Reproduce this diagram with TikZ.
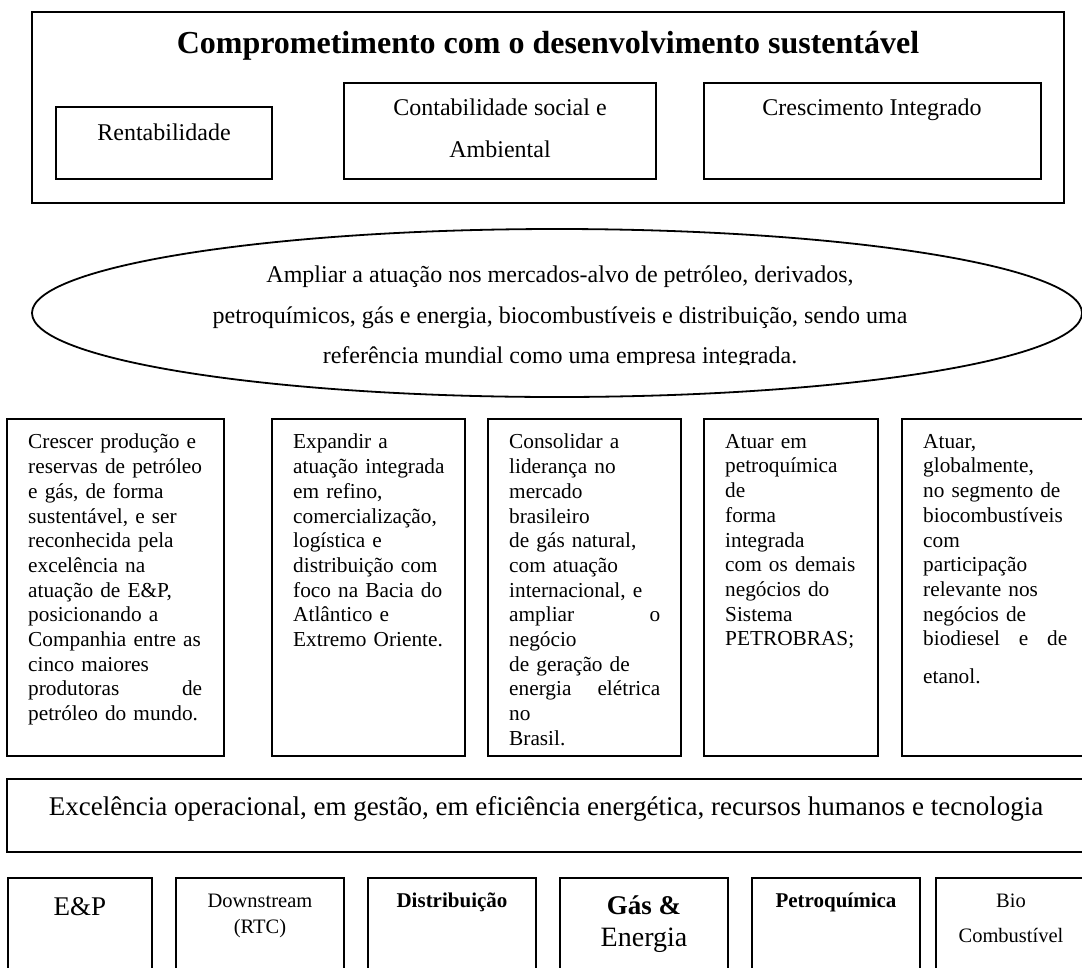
\documentclass[tikz,border=0pt]{standalone}
\usepackage{fontspec}
\setmainfont{Liberation Serif}
\usepackage {tikz}
\usetikzlibrary{positioning}
\newcommand\spreadgap{\hskip 0pt plus 1filll}

\begin{document}
\begin{tikzpicture}[x=1pt, y=-1pt,
    frame/.style={draw, line width=1.8pt},
    lbl/.style={inner sep=0pt, anchor=base},
    big/.style={font=\fontsize{24}{28}\selectfont},
    small/.style={font=\fontsize{20.5}{24}\selectfont},
    col/.style={inner sep=0pt, anchor=north west, text width=#1pt, align=left,
        font=\fontsize{21.3}{24.7}\selectfont}]
%\draw[help lines, step=50] (0,0) grid (1082,967);
\useasboundingbox (0,0) rectangle (1082,967);

% top frame
\draw[frame] (32,12) rectangle (1064,203);
\node[lbl, font=\bfseries\fontsize{32}{38}\selectfont] (title) at (548,53) {Comprometimento com o desenvolvimento sustentável};
\draw[frame] (56,107) rectangle (272,179);
\draw[frame] (344,83) rectangle (656,179);
\draw[frame] (704,83) rectangle (1041,179);
\node[lbl, big] (rent) at (164,140) {Rentabilidade};
\node[lbl, big] (cont) at (500,115) {Contabilidade social e};
\node[lbl, big] (amb) at (500,157) {Ambiental};
\node[lbl, big] (cresc) at (872,115) {Crescimento Integrado};

% vision
\draw[frame] (557,313) ellipse [x radius=525pt, y radius=84pt];
\node[lbl, big] (vis1) at (560,282) {Ampliar a atuação nos mercados-alvo de petróleo, derivados,};
\node[lbl, big] (vis2) at (560,323) {petroquímicos, gás e energia, biocombustíveis e distribuição, sendo uma};
\begin{scope}
\clip (0,0) rectangle (1082,364.5);
\node[lbl, big] (vis3) at (560,363) {referência mundial como uma empresa integrada.};
\end{scope}

% goals
\foreach \xa/\xb in {7/224, 272/465, 488/681, 704/878, 902/1090}
    \draw[frame] (\xa,419) rectangle (\xb,756);
\node[col=174] (goal1) at (28,434) {Crescer produção e\\ reservas de petróleo\\ e gás, de forma\\ sustentável, e ser\\ reconhecida pela\\ excelência na\\ atuação de E\&P,\\ posicionando a\\ Companhia entre as\\ cinco maiores\\ produtoras \spreadgap{} de\\ petróleo do mundo.};
\node[col=162] (goal2) at (293,434) {Expandir a\\ atuação integrada\\ em refino,\\ comercialização,\\ logística e\\ distribuição com\\ foco na Bacia do\\ Atlântico e\\ Extremo Oriente.};
\node[col=151] (goal3) at (509,434) {Consolidar a\\ liderança no\\ mercado\\ brasileiro\\ de gás natural,\\ com atuação\\ internacional, e\\ ampliar \spreadgap{} o\\ negócio\\ de geração de\\ energia \spreadgap{} elétrica\\ no\\ Brasil.};
\node[col=132] (goal4) at (725,434) {Atuar em\\ petroquímica\\ de\\ forma\\ integrada\\ com os demais\\ negócios do\\ Sistema\\ PETROBRAS;};
\node[col=144] (goal5) at (923,434) {Atuar,\\ globalmente,\\ no segmento de\\ biocombustíveis\\ com\\ participação\\ relevante nos\\ negócios de\\ biodiesel \spreadgap{} e \spreadgap{} de\\[13pt] etanol.};

% excellence
\draw[frame] (7,779) rectangle (1088,852);
\node[lbl, font=\fontsize{27}{32}\selectfont] (excel) at (546,815) {Excelência operacional, em gestão, em eficiência energética, recursos humanos e tecnologia};

% business areas
\foreach \xa/\xb in {8/152, 176/344, 368/536, 560/728, 752/920, 936/1090}
    \draw[frame] (\xa,878) rectangle (\xb,980);
\node[lbl, font=\fontsize{27}{32}\selectfont] (ep) at (80,915) {E\&P};
\node[lbl, small] (down) at (260,907) {Downstream};
\node[lbl, small] (rtc) at (260,933) {(RTC)};
\node[lbl, font=\bfseries\fontsize{21}{25}\selectfont] (dist) at (452,907) {Distribuição};
\node[lbl, font=\bfseries\fontsize{27}{32}\selectfont] (gas) at (644,914) {Gás \&};
\node[lbl, font=\fontsize{28}{32}\selectfont] (ener) at (644,946) {Energia};
\node[lbl, font=\bfseries\fontsize{21}{25}\selectfont] (petro) at (836,907) {Petroquímica};
\node[lbl, small] (bio) at (1011,907) {Bio};
\node[lbl, small] (comb) at (1011,942) {Combustível};

\end{tikzpicture}
\end{document}
